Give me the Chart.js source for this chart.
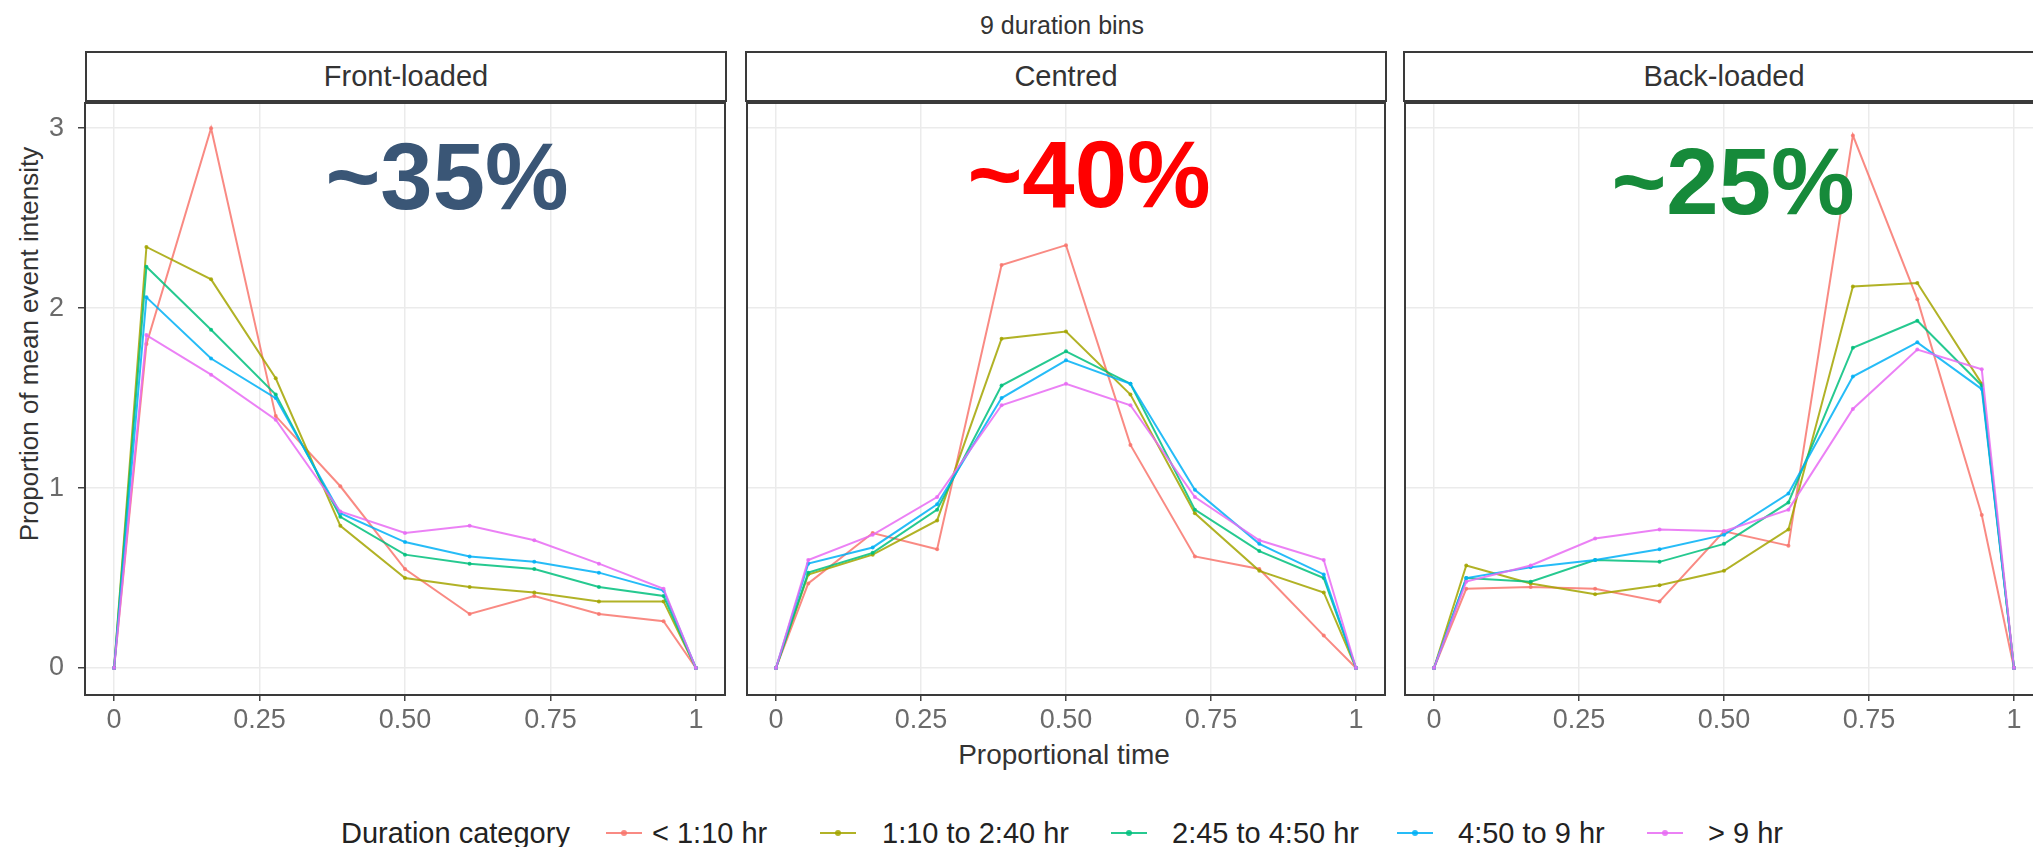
<!DOCTYPE html>
<html>
<head>
<meta charset="utf-8">
<title>9 duration bins</title>
<script src="https://cdn.jsdelivr.net/npm/chart.js@4.4.1/dist/chart.umd.min.js"></script>
<style>
    html, body { margin: 0; padding: 0; background: #fff; overflow: hidden; }
    #stage { position: relative; width: 2033px; height: 847px; overflow: hidden;
             font-family: "Liberation Sans", Arial, sans-serif; }
    .txt { position: absolute; white-space: nowrap; line-height: 1; transform: translate(-50%, -50%); }
    .strip { position: absolute; top: 51px; height: 51px; box-sizing: border-box; border: 2px solid #3a3a3a;
             background: #fff; display: flex; align-items: center; justify-content: center;
             font-size: 29px; color: #333; }
    .share { position: absolute; white-space: nowrap; line-height: 1; transform: translate(-50%, -50%);
             font-size: 94px; font-weight: bold; }
    .key { position: absolute; top: 833px; width: 36px; height: 2px; margin-top: -1px; }
    .key span { position: absolute; left: 15px; top: -2px; width: 6px; height: 6px; border-radius: 3px; }
    .legtxt { position: absolute; top: 833px; white-space: nowrap; line-height: 1; transform: translateY(-50%);
              font-size: 29px; color: #222; }
    canvas { position: absolute; }
</style>
</head>
<body>
<div id="stage">
    <div class="txt" style="left:1062px; top:25px; font-size:25px; color:#333;">9 duration bins</div>
    <div class="txt" style="left:29px; top:344px; font-size:26px; color:#333; transform:translate(-50%,-50%) rotate(-90deg);">Proportion of mean event intensity</div>
    <div class="txt" style="left:1064px; top:755px; font-size:28px; color:#333;">Proportional time</div>
</div>

<script>
    "use strict";

    // Datos del gráfico
    var categories = ['< 1:10 hr', '1:10 to 2:40 hr', '2:45 to 4:50 hr', '4:50 to 9 hr', '> 9 hr'];
    var panelNames = ['Front-loaded', 'Centred', 'Back-loaded'];
    var panelShares = ['~35%', '~40%', '~25%'];
    var legendTitle = 'Duration category';

    // tiempo proporcional (0, centros de los 9 bins, 1)
    var timePoints = [0, 0.0556, 0.1667, 0.2778, 0.3889, 0.5, 0.6111, 0.7222, 0.8333, 0.9444, 1];
    var xTicks = [0, 0.25, 0.5, 0.75, 1];
    var xTickLabels = ['0', '0.25', '0.50', '0.75', '1'];
    var yTicks = [0, 1, 2, 3];

    // Front-loaded, una fila por categoría
    var frontLoaded = [
        [0, 1.80, 3.00, 1.40, 1.01, 0.55, 0.30, 0.40, 0.30, 0.26, 0],
        [0, 2.34, 2.16, 1.61, 0.79, 0.50, 0.45, 0.42, 0.37, 0.37, 0],
        [0, 2.23, 1.88, 1.52, 0.84, 0.63, 0.58, 0.55, 0.45, 0.40, 0],
        [0, 2.06, 1.72, 1.50, 0.86, 0.70, 0.62, 0.59, 0.53, 0.43, 0],
        [0, 1.85, 1.63, 1.38, 0.87, 0.75, 0.79, 0.71, 0.58, 0.44, 0]
    ];

    // Centred
    var centred = [
        [0, 0.47, 0.75, 0.66, 2.24, 2.35, 1.24, 0.62, 0.55, 0.18, 0],
        [0, 0.52, 0.63, 0.82, 1.83, 1.87, 1.52, 0.86, 0.54, 0.42, 0],
        [0, 0.53, 0.64, 0.88, 1.57, 1.76, 1.58, 0.88, 0.65, 0.50, 0],
        [0, 0.58, 0.67, 0.91, 1.50, 1.71, 1.58, 0.99, 0.69, 0.52, 0],
        [0, 0.60, 0.74, 0.95, 1.46, 1.58, 1.46, 0.95, 0.71, 0.60, 0]
    ];

    // Back-loaded
    var backLoaded = [
        [0, 0.44, 0.45, 0.44, 0.37, 0.76, 0.68, 2.96, 2.05, 0.85, 0],
        [0, 0.57, 0.47, 0.41, 0.46, 0.54, 0.77, 2.12, 2.14, 1.58, 0],
        [0, 0.50, 0.48, 0.60, 0.59, 0.69, 0.92, 1.78, 1.93, 1.57, 0],
        [0, 0.50, 0.56, 0.60, 0.66, 0.74, 0.97, 1.62, 1.81, 1.55, 0],
        [0, 0.48, 0.57, 0.72, 0.77, 0.76, 0.88, 1.44, 1.77, 1.66, 0]
    ];

    var panelSeries = [frontLoaded, centred, backLoaded];

    // Estilos y posiciones
    var seriesColours = ['rgba(248,118,109,0.85)', 'rgba(163,165,0,0.85)', 'rgba(0,191,125,0.85)',
                         'rgba(0,176,246,0.85)', 'rgba(231,107,243,0.85)'];
    var shareColours = ['#3a5676', '#ff0000', '#168a3a'];
    var shareCentres = [[447, 177], [1089, 175], [1733, 182]];
    var panelLefts = [85, 745, 1403];
    var PANEL_W = 642, PANEL_TOP = 101, PANEL_H = 594, X_AXIS_H = 80;
    var legendKeyX = [606, 820, 1111, 1397, 1647];
    var legendTextX = [652, 882, 1172, 1458, 1708];

    Chart.defaults.font.family = '"Liberation Sans", Arial, sans-serif';

    var stage = document.getElementById('stage');

    // Borde del panel (estilo theme_bw)
    var panelBorder = {
        id: 'panelBorder',
        afterDatasetsDraw: function (chart) {
            var a = chart.chartArea, ctx = chart.ctx;
            ctx.save();
            ctx.strokeStyle = '#3a3a3a';
            ctx.lineWidth = 2;
            ctx.strokeRect(a.left, a.top, a.right - a.left, a.bottom - a.top);
            ctx.restore();
        }
    };

    // quita el relleno que Chart.js reserva para las etiquetas de los extremos
    function noLabelPadding(s) {
        s.paddingTop = 0;
        s.paddingBottom = 0;
        s.paddingLeft = 0;
        s.paddingRight = 0;
    }

    function makePanel(idx) {
        var first = idx === 0;
        var series = panelSeries[idx];
        var yAxisW = first ? 85 : 0;
        var padL = first ? 0 : 2, padR = 2, padT = 2;

        var canvas = document.createElement('canvas');
        canvas.width = padL + yAxisW + PANEL_W + padR;
        canvas.height = padT + PANEL_H + X_AXIS_H;
        canvas.style.left = (panelLefts[idx] - yAxisW - padL) + 'px';
        canvas.style.top = (PANEL_TOP - padT) + 'px';
        stage.appendChild(canvas);

        new Chart(canvas.getContext('2d'), {
            type: 'line',
            data: {
                datasets: categories.map(function (name, i) {
                    return {
                        label: name,
                        data: timePoints.map(function (t, k) { return {x: t, y: series[i][k]}; }),
                        borderColor: seriesColours[i],
                        backgroundColor: seriesColours[i],
                        borderWidth: 2,
                        pointRadius: 2,
                        pointBorderWidth: 0,
                        tension: 0,
                        order: categories.length - i // el último queda encima, como en ggplot
                    };
                })
            },
            options: {
                responsive: false,
                animation: false,
                layout: { padding: { left: padL, right: padR, top: padT, bottom: 0 } },
                plugins: { legend: { display: false }, tooltip: { enabled: false } },
                scales: {
                    x: {
                        type: 'linear', min: -0.05, max: 1.05,
                        afterBuildTicks: function (s) { s.ticks = xTicks.map(function (v) { return {value: v}; }); },
                        afterFit: function (s) { s.height = X_AXIS_H; noLabelPadding(s); },
                        border: { display: false },
                        grid: { color: '#ebebeb', lineWidth: 1.5, tickColor: '#444', tickLength: 6, tickWidth: 1.5 },
                        ticks: {
                            color: '#6b6b6b', font: { size: 27 }, padding: 3, maxRotation: 0, autoSkip: false,
                            callback: function (v, i) { return xTickLabels[i]; }
                        }
                    },
                    y: {
                        type: 'linear', min: -0.15, max: 3.14,
                        afterBuildTicks: function (s) { s.ticks = yTicks.map(function (v) { return {value: v}; }); },
                        afterFit: function (s) { s.width = yAxisW; noLabelPadding(s); },
                        border: { display: false },
                        grid: { color: '#ebebeb', lineWidth: 1.5, drawTicks: first, tickColor: '#444', tickLength: 7, tickWidth: 1.5 },
                        ticks: { display: first, color: '#6b6b6b', font: { size: 27 }, padding: 14 }
                    }
                }
            },
            plugins: [panelBorder]
        });

        // franja con el nombre del panel
        var strip = document.createElement('div');
        strip.className = 'strip';
        strip.style.left = panelLefts[idx] + 'px';
        strip.style.width = PANEL_W + 'px';
        strip.textContent = panelNames[idx];
        stage.appendChild(strip);

        // porcentaje grande encima del panel
        var share = document.createElement('div');
        share.className = 'share';
        share.style.left = shareCentres[idx][0] + 'px';
        share.style.top = shareCentres[idx][1] + 'px';
        share.style.color = shareColours[idx];
        share.textContent = panelShares[idx];
        stage.appendChild(share);
    }

    panelNames.forEach(function (n, i) { makePanel(i); });

    // Leyenda común
    var legTitle = document.createElement('div');
    legTitle.className = 'legtxt';
    legTitle.style.left = '341px';
    legTitle.textContent = legendTitle;
    stage.appendChild(legTitle);

    categories.forEach(function (name, i) {
        var key = document.createElement('div');
        key.className = 'key';
        key.style.left = legendKeyX[i] + 'px';
        key.style.background = seriesColours[i];
        var dot = document.createElement('span');
        dot.style.background = seriesColours[i];
        key.appendChild(dot);
        stage.appendChild(key);

        var txt = document.createElement('div');
        txt.className = 'legtxt';
        txt.style.left = legendTextX[i] + 'px';
        txt.textContent = name;
        stage.appendChild(txt);
    });
</script>
</body>
</html>
